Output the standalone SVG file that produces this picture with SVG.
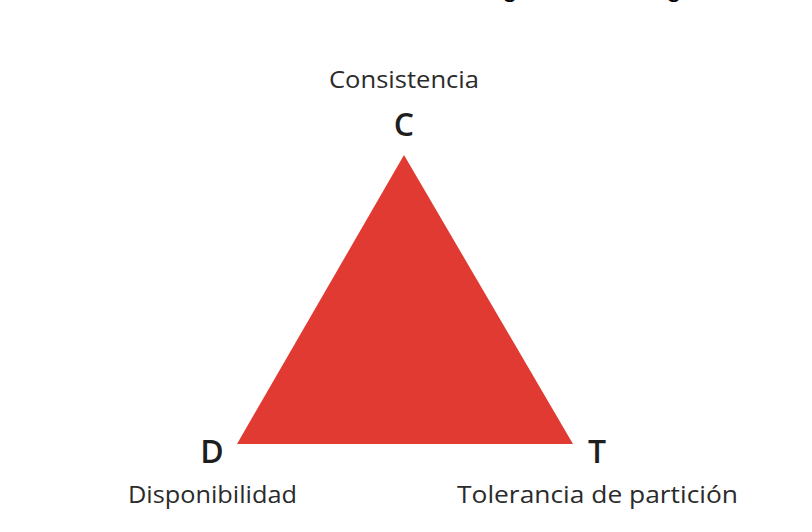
<svg xmlns="http://www.w3.org/2000/svg" width="812" height="532" viewBox="0 0 812 532">
<style>
.lbl{font-family:"Open Sans","DejaVu Sans",sans-serif;fill:#2b2b2b;font-size:23px}
.ltr{font-family:"Open Sans","DejaVu Sans",sans-serif;fill:#1e1e1e;font-size:32px;font-weight:600;text-anchor:middle}
.frag{font-family:"Liberation Sans",sans-serif;fill:#000;font-size:28px}
</style>
<rect width="812" height="532" fill="#fff"/>
<text class="frag" x="502" y="-4">g</text>
<text class="frag" x="666" y="-4">g</text>
<g id="triangle">
<polygon points="404,155 237,444 573,444" fill="#E03A33"/>
</g>
<g id="C">
<text class="lbl" x="329" y="88" textLength="150" lengthAdjust="spacingAndGlyphs">Consistencia</text>
<text class="ltr" x="404" y="136">C</text>
</g>
<g id="D">
<text class="ltr" x="212" y="463">D</text>
<text class="lbl" x="128" y="503" textLength="169" lengthAdjust="spacingAndGlyphs">Disponibilidad</text>
</g>
<g id="T">
<text class="ltr" x="597" y="463">T</text>
<text class="lbl" x="457" y="503" textLength="281" lengthAdjust="spacingAndGlyphs">Tolerancia de partición</text>
</g>
<g id="connectors"/>
</svg>
